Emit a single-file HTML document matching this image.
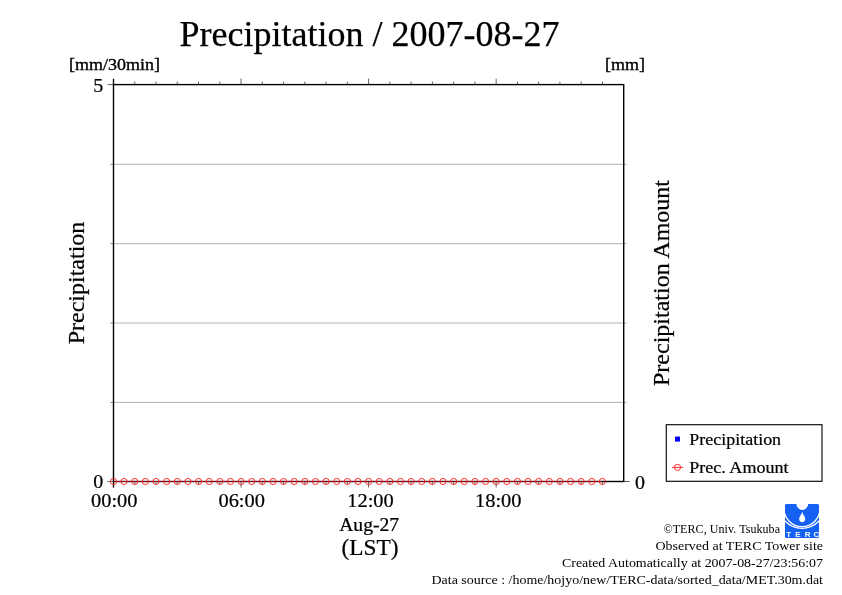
<!DOCTYPE html>
<html><head><meta charset="utf-8"><title>Precipitation / 2007-08-27</title>
<style>
html,body{margin:0;padding:0;background:#fff;}
body{width:842px;height:595px;overflow:hidden;}
svg{display:block;}
svg text{font-family:"Liberation Serif","Times New Roman",serif;fill:#000;stroke:#000;stroke-width:0.22px;}
svg text.big{stroke-width:0.25px;}
svg text.sm{stroke:none;}
svg text.logo{font-family:"Liberation Sans",Arial,sans-serif;font-weight:bold;fill:#fff;stroke:none;}
</style></head><body>
<svg width="842" height="595" viewBox="0 0 842 595">
<rect x="0" y="0" width="842" height="595" fill="#fff"/>
<g stroke="#a4a4a4" stroke-width="0.85">
<line x1="113.5" y1="402.42" x2="626.7" y2="402.42"/><line x1="110.5" y1="402.42" x2="113.5" y2="402.42" stroke="#444" stroke-width="0.7"/>
<line x1="113.5" y1="323.04" x2="626.7" y2="323.04"/><line x1="110.5" y1="323.04" x2="113.5" y2="323.04" stroke="#444" stroke-width="0.7"/>
<line x1="113.5" y1="243.66" x2="626.7" y2="243.66"/><line x1="110.5" y1="243.66" x2="113.5" y2="243.66" stroke="#444" stroke-width="0.7"/>
<line x1="113.5" y1="164.28" x2="626.7" y2="164.28"/><line x1="110.5" y1="164.28" x2="113.5" y2="164.28" stroke="#444" stroke-width="0.7"/>
</g>
<g stroke="#222" stroke-width="0.7">
<line x1="113.50" y1="78.6" x2="113.50" y2="84.6"/><line x1="113.50" y1="481.5" x2="113.50" y2="487.5"/>
<line x1="134.76" y1="81.6" x2="134.76" y2="84.6"/><line x1="134.76" y1="481.5" x2="134.76" y2="484.5"/>
<line x1="156.02" y1="81.6" x2="156.02" y2="84.6"/><line x1="156.02" y1="481.5" x2="156.02" y2="484.5"/>
<line x1="177.28" y1="81.6" x2="177.28" y2="84.6"/><line x1="177.28" y1="481.5" x2="177.28" y2="484.5"/>
<line x1="198.53" y1="81.6" x2="198.53" y2="84.6"/><line x1="198.53" y1="481.5" x2="198.53" y2="484.5"/>
<line x1="219.79" y1="81.6" x2="219.79" y2="84.6"/><line x1="219.79" y1="481.5" x2="219.79" y2="484.5"/>
<line x1="241.05" y1="78.6" x2="241.05" y2="84.6"/><line x1="241.05" y1="481.5" x2="241.05" y2="487.5"/>
<line x1="262.31" y1="81.6" x2="262.31" y2="84.6"/><line x1="262.31" y1="481.5" x2="262.31" y2="484.5"/>
<line x1="283.57" y1="81.6" x2="283.57" y2="84.6"/><line x1="283.57" y1="481.5" x2="283.57" y2="484.5"/>
<line x1="304.83" y1="81.6" x2="304.83" y2="84.6"/><line x1="304.83" y1="481.5" x2="304.83" y2="484.5"/>
<line x1="326.08" y1="81.6" x2="326.08" y2="84.6"/><line x1="326.08" y1="481.5" x2="326.08" y2="484.5"/>
<line x1="347.34" y1="81.6" x2="347.34" y2="84.6"/><line x1="347.34" y1="481.5" x2="347.34" y2="484.5"/>
<line x1="368.60" y1="78.6" x2="368.60" y2="84.6"/><line x1="368.60" y1="481.5" x2="368.60" y2="487.5"/>
<line x1="389.86" y1="81.6" x2="389.86" y2="84.6"/><line x1="389.86" y1="481.5" x2="389.86" y2="484.5"/>
<line x1="411.12" y1="81.6" x2="411.12" y2="84.6"/><line x1="411.12" y1="481.5" x2="411.12" y2="484.5"/>
<line x1="432.38" y1="81.6" x2="432.38" y2="84.6"/><line x1="432.38" y1="481.5" x2="432.38" y2="484.5"/>
<line x1="453.63" y1="81.6" x2="453.63" y2="84.6"/><line x1="453.63" y1="481.5" x2="453.63" y2="484.5"/>
<line x1="474.89" y1="81.6" x2="474.89" y2="84.6"/><line x1="474.89" y1="481.5" x2="474.89" y2="484.5"/>
<line x1="496.15" y1="78.6" x2="496.15" y2="84.6"/><line x1="496.15" y1="481.5" x2="496.15" y2="487.5"/>
<line x1="517.41" y1="81.6" x2="517.41" y2="84.6"/><line x1="517.41" y1="481.5" x2="517.41" y2="484.5"/>
<line x1="538.67" y1="81.6" x2="538.67" y2="84.6"/><line x1="538.67" y1="481.5" x2="538.67" y2="484.5"/>
<line x1="559.93" y1="81.6" x2="559.93" y2="84.6"/><line x1="559.93" y1="481.5" x2="559.93" y2="484.5"/>
<line x1="581.18" y1="81.6" x2="581.18" y2="84.6"/><line x1="581.18" y1="481.5" x2="581.18" y2="484.5"/>
<line x1="602.44" y1="81.6" x2="602.44" y2="84.6"/><line x1="602.44" y1="481.5" x2="602.44" y2="484.5"/>
<line x1="107.5" y1="84.6" x2="113.5" y2="84.6"/><line x1="107.5" y1="481.5" x2="113.5" y2="481.5"/><line x1="623.7" y1="481.5" x2="629.7" y2="481.5"/>
</g>
<rect x="113.5" y="84.6" width="510.20" height="396.9" fill="none" stroke="#000" stroke-width="1.4"/>
<line x1="113.5" y1="79.1" x2="113.5" y2="84.6" stroke="#000" stroke-width="1.3"/><line x1="113.5" y1="481.5" x2="113.5" y2="487.5" stroke="#000" stroke-width="1.3"/>
<line x1="113.5" y1="481.5" x2="602.44" y2="481.5" stroke="#8c001c" stroke-width="1.0"/>
<g fill="none" stroke="#ff1a1a" stroke-width="0.9">
<circle cx="113.50" cy="481.5" r="3.1"/><circle cx="124.13" cy="481.5" r="3.1"/><circle cx="134.76" cy="481.5" r="3.1"/><circle cx="145.39" cy="481.5" r="3.1"/><circle cx="156.02" cy="481.5" r="3.1"/><circle cx="166.65" cy="481.5" r="3.1"/>
<circle cx="177.28" cy="481.5" r="3.1"/><circle cx="187.90" cy="481.5" r="3.1"/><circle cx="198.53" cy="481.5" r="3.1"/><circle cx="209.16" cy="481.5" r="3.1"/><circle cx="219.79" cy="481.5" r="3.1"/><circle cx="230.42" cy="481.5" r="3.1"/>
<circle cx="241.05" cy="481.5" r="3.1"/><circle cx="251.68" cy="481.5" r="3.1"/><circle cx="262.31" cy="481.5" r="3.1"/><circle cx="272.94" cy="481.5" r="3.1"/><circle cx="283.57" cy="481.5" r="3.1"/><circle cx="294.20" cy="481.5" r="3.1"/>
<circle cx="304.83" cy="481.5" r="3.1"/><circle cx="315.45" cy="481.5" r="3.1"/><circle cx="326.08" cy="481.5" r="3.1"/><circle cx="336.71" cy="481.5" r="3.1"/><circle cx="347.34" cy="481.5" r="3.1"/><circle cx="357.97" cy="481.5" r="3.1"/>
<circle cx="368.60" cy="481.5" r="3.1"/><circle cx="379.23" cy="481.5" r="3.1"/><circle cx="389.86" cy="481.5" r="3.1"/><circle cx="400.49" cy="481.5" r="3.1"/><circle cx="411.12" cy="481.5" r="3.1"/><circle cx="421.75" cy="481.5" r="3.1"/>
<circle cx="432.38" cy="481.5" r="3.1"/><circle cx="443.00" cy="481.5" r="3.1"/><circle cx="453.63" cy="481.5" r="3.1"/><circle cx="464.26" cy="481.5" r="3.1"/><circle cx="474.89" cy="481.5" r="3.1"/><circle cx="485.52" cy="481.5" r="3.1"/>
<circle cx="496.15" cy="481.5" r="3.1"/><circle cx="506.78" cy="481.5" r="3.1"/><circle cx="517.41" cy="481.5" r="3.1"/><circle cx="528.04" cy="481.5" r="3.1"/><circle cx="538.67" cy="481.5" r="3.1"/><circle cx="549.30" cy="481.5" r="3.1"/>
<circle cx="559.93" cy="481.5" r="3.1"/><circle cx="570.55" cy="481.5" r="3.1"/><circle cx="581.18" cy="481.5" r="3.1"/><circle cx="591.81" cy="481.5" r="3.1"/><circle cx="602.44" cy="481.5" r="3.1"/>
</g>
<text class="big" x="369.5" y="46" font-size="36" text-anchor="middle">Precipitation / 2007-08-27</text>
<text x="114.6" y="70.4" font-size="17" style="stroke-width:0.35px" text-anchor="middle" textLength="91" lengthAdjust="spacingAndGlyphs">[mm/30min]</text>
<text x="625" y="70.4" font-size="17" style="stroke-width:0.35px" text-anchor="middle" textLength="40" lengthAdjust="spacingAndGlyphs">[mm]</text>
<text x="103.3" y="92.2" font-size="19.2" text-anchor="end" textLength="10" lengthAdjust="spacingAndGlyphs">5</text>
<text x="103.3" y="488.2" font-size="19.2" text-anchor="end" textLength="10" lengthAdjust="spacingAndGlyphs">0</text>
<text x="635" y="489.3" font-size="19.2" textLength="10" lengthAdjust="spacingAndGlyphs">0</text>
<text x="114.3" y="506.7" font-size="19.2" text-anchor="middle" textLength="46.5" lengthAdjust="spacingAndGlyphs">00:00</text>
<text x="241.7" y="506.7" font-size="19.2" text-anchor="middle" textLength="46.5" lengthAdjust="spacingAndGlyphs">06:00</text>
<text x="370.5" y="506.7" font-size="19.2" text-anchor="middle" textLength="46.5" lengthAdjust="spacingAndGlyphs">12:00</text>
<text x="498.3" y="506.7" font-size="19.2" text-anchor="middle" textLength="46.5" lengthAdjust="spacingAndGlyphs">18:00</text>
<text x="369.2" y="530.8" font-size="18.6" text-anchor="middle" textLength="60" lengthAdjust="spacingAndGlyphs">Aug-27</text>
<text x="370" y="554.5" font-size="23.2" text-anchor="middle" textLength="57" lengthAdjust="spacingAndGlyphs">(LST)</text>
<text transform="translate(84,283) rotate(-90)" font-size="24" text-anchor="middle">Precipitation</text>
<text transform="translate(669,283) rotate(-90)" font-size="24" text-anchor="middle">Precipitation Amount</text>
<rect x="666.3" y="424.7" width="155.7" height="56.6" fill="#fff" stroke="#111" stroke-width="1.2"/>
<rect x="675" y="436.6" width="5" height="5" fill="#0000ff"/>
<text x="689.3" y="445" font-size="16.8" textLength="91.8" lengthAdjust="spacingAndGlyphs">Precipitation</text>
<line x1="671.8" y1="467.4" x2="683.2" y2="467.4" stroke="#ff1a1a" stroke-width="0.9"/><circle cx="677.5" cy="467.4" r="3.1" fill="none" stroke="#ff1a1a" stroke-width="0.9"/>
<text x="689.3" y="473" font-size="16.8" textLength="99.2" lengthAdjust="spacingAndGlyphs">Prec. Amount</text>
<text class="sm" x="780" y="533" font-size="12" text-anchor="end" textLength="116.5" lengthAdjust="spacing">©TERC, Univ. Tsukuba</text>
<text class="sm" x="823" y="550" font-size="13.2" text-anchor="end" textLength="167.5" lengthAdjust="spacingAndGlyphs">Observed at TERC Tower site</text>
<text class="sm" x="823" y="567" font-size="13.2" text-anchor="end" textLength="261" lengthAdjust="spacingAndGlyphs">Created Automatically at 2007-08-27/23:56:07</text>
<text class="sm" x="823" y="583.5" font-size="13.2" text-anchor="end" textLength="391.5" lengthAdjust="spacingAndGlyphs">Data source : /home/hojyo/new/TERC-data/sorted_data/MET.30m.dat</text>
<g id="logo">
<clipPath id="lc"><rect x="785" y="504" width="34" height="34" rx="1.5"/></clipPath>
<rect x="785" y="504" width="34" height="34" rx="1.5" fill="#1561f4"/>
<g clip-path="url(#lc)">
<ellipse cx="802.3" cy="503.3" rx="6" ry="6.6" fill="#fff"/>
<path d="M802.2 511.8 C802.6 514.5 805.4 516.5 805.3 519 C805.2 521 803.9 522.2 802.2 522.2 C800.5 522.2 799.2 521 799.1 519 C799 516.5 801.8 514.5 802.2 511.8 Z" fill="#fff"/>
<ellipse cx="802" cy="508" rx="18.2" ry="18.6" fill="none" stroke="#fff" stroke-width="1.4"/>
<circle cx="802" cy="505" r="23.4" fill="none" stroke="#fff" stroke-width="1.4"/>
</g>
<text class="logo" x="786.25 795.15 804.8 813.6" y="536.8" font-size="8">TERC</text>
</g>
</svg>
</body></html>
